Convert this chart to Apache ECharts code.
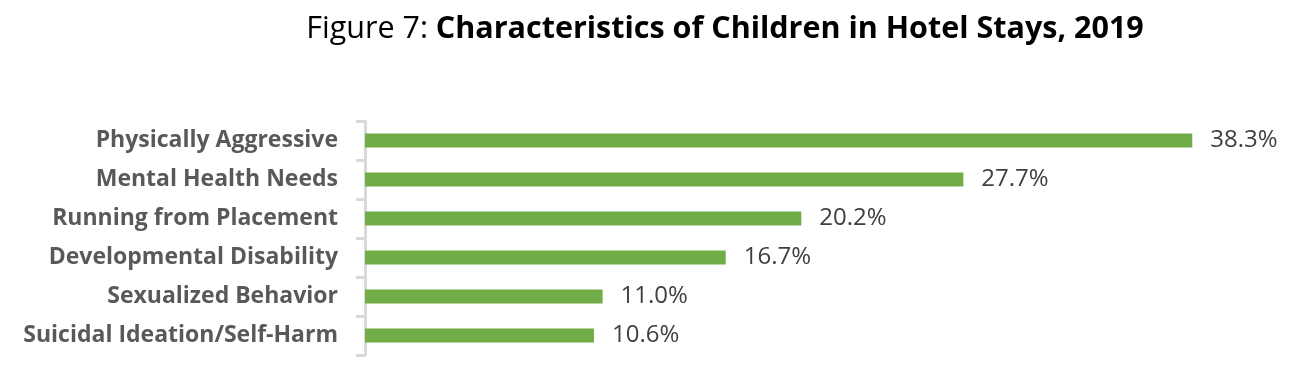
<!DOCTYPE html>
<html>
<head>
<meta charset="utf-8">
<script src="https://cdn.jsdelivr.net/npm/echarts@6/dist/echarts.min.js"></script>
<style>
  html, body { margin: 0; padding: 0; background: #fff; }
  #chart { width: 1305px; height: 377px; }
</style>
</head>
<body>
<div id="chart"></div>
<script>
const categories = [
  'Physically Aggressive',
  'Mental Health Needs',
  'Running from Placement',
  'Developmental Disability',
  'Sexualized Behavior',
  'Suicidal Ideation/Self-Harm',
]
const values = [38.3, 27.7, 20.2, 16.7, 11.0, 10.6]

const fontFamily = '"Open Sans", Lato, sans-serif'
const chart = echarts.init(document.getElementById('chart'))

chart.setOption({
  animation: false,
  title: {
    text: '{a|Figure 7: }{b|Characteristics of Children in Hotel Stays, 2019}',
    left: 720,
    textAlign: 'center',
    top: 9,
    textStyle: {
      rich: {
        a: { fontFamily, fontSize: 30.5, color: '#000', fontWeight: 'normal' },
        b: { fontFamily, fontSize: 30.5, color: '#000', fontWeight: 'bold' },
      },
    },
  },
  grid: {
    left: 365,
    right: 76,
    top: 121,
    bottom: 22,
  },
  xAxis: {
    type: 'value',
    min: 0,
    max: 40,
    show: false,
  },
  yAxis: {
    type: 'category',
    inverse: true,
    data: categories,
    axisLine: { lineStyle: { color: '#d9d9d9', width: 3 } },
    axisTick: { show: true, length: 9, lineStyle: { color: '#d9d9d9', width: 3 } },
    axisLabel: {
      margin: 27,
      fontFamily,
      fontSize: 23,
      fontWeight: 'bold',
      color: '#595959',
    },
  },
  series: [
    {
      type: 'bar',
      data: values,
      barWidth: 14,
      itemStyle: { color: '#70ad47' },
      label: {
        show: true,
        position: 'right',
        distance: 18,
        formatter: (p) => p.value.toFixed(1) + '%',
        fontFamily,
        fontSize: 24,
        color: '#404040',
      },
    },
  ],
})
</script>
</body>
</html>
